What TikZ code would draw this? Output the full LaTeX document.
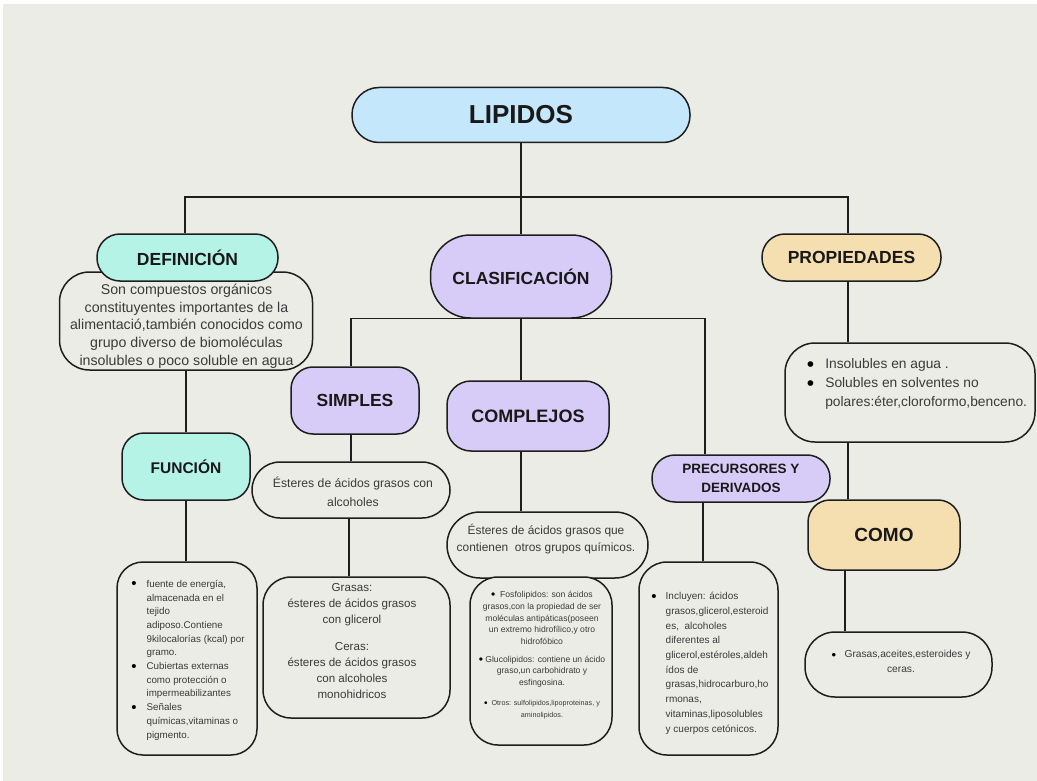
\documentclass[tikz,border=0pt]{standalone}
\usepackage{fontspec}
\setmainfont{Liberation Sans}
\definecolor{bgc}{RGB}{236,236,231}
\definecolor{edge}{RGB}{30,30,30}
\definecolor{lipblue}{RGB}{197,231,252}
\definecolor{mint}{RGB}{181,243,230}
\definecolor{lav}{RGB}{214,204,247}
\definecolor{peach}{RGB}{245,223,176}
\definecolor{hdrtxt}{RGB}{25,25,25}
\definecolor{bodytxt}{RGB}{58,58,58}
\newcommand{\myfs}[2]{\fontsize{#1}{#2}\selectfont}
\newcommand{\bul}[2]{\raisebox{#2}{\textcolor{black}{\fontsize{#1}{#1}\selectfont\textbullet}}}
\tikzset{
  box/.style={draw=edge, line width=1.5pt, inner sep=0pt, fill=bgc},
  hdr/.style={draw=edge, line width=1.5pt, inner sep=0pt, text=hdrtxt, align=center},
  body/.style={inner sep=0pt, text=bodytxt, align=center},
  conn/.style={draw=edge, line width=1.4pt}
}
\begin{document}
\begin{tikzpicture}[x=1pt,y=-1pt]
\useasboundingbox (0,0) rectangle (1037,781);
\fill[white] (0,0) rectangle (1037,781);
\fill[bgc] (3,4) rectangle (1037,781);

% ---- top
\node[hdr, fill=lipblue, minimum width=338, minimum height=55, rounded corners=27pt,
      font=\bfseries\myfs{26}{30}] (lip) at (521,115) {LIPIDOS};
\coordinate (bar1) at (521,197);

% ---- definicion column
\node[box, minimum width=253, minimum height=98, rounded corners=30pt] (defbox) at (186,321) {};
\node[body, font=\myfs{14.2}{17.7}] (deft) at (186.5,326)
  {Son compuestos orgánicos\\constituyentes importantes de la\\alimentació,también conocidos como\\grupo diverso de biomoléculas\\insolubles o poco soluble en agua};
\node[hdr, fill=mint, minimum width=181, minimum height=47, rounded corners=23pt,
      font=\bfseries\myfs{17.5}{20}] (def) at (187.5,257.5) {DEFINICIÓN};
\node[hdr, fill=mint, minimum width=128, minimum height=67, rounded corners=22pt,
      font=\bfseries\myfs{15.5}{18}] (fun) at (186,466.5) {FUNCIÓN};
\node[box, minimum width=140, minimum height=193, rounded corners=26pt] (funl) at (187,658.5) {};
\node[body, align=left, font=\myfs{9.8}{13.7}] (funt) at (188,660)
  {\begin{tabular}{@{}c@{\hspace{10pt}}l@{}}
   \bul{15}{-1.6pt} & fuente de energía,\\
   & almacenada en el\\
   & tejido\\
   & adiposo.Contiene\\
   & 9kilocalorías (kcal) por\\
   & gramo.\\
   \bul{15}{-1.6pt} & Cubiertas externas\\
   & como protección o\\
   & impermeabilizantes\\
   \bul{15}{-1.6pt} & Señales\\
   & químicas,vitaminas o\\
   & pigmento.
   \end{tabular}};

% ---- clasificacion column
\node[hdr, fill=lav, minimum width=181, minimum height=83, rounded corners=40pt,
      font=\bfseries\myfs{17.5}{20}] (clas) at (521,276.5) {CLASIFICACIÓN};
\node[hdr, fill=lav, minimum width=128, minimum height=67, rounded corners=22pt,
      font=\bfseries\myfs{17.5}{20}] (simp) at (355,400.5) {SIMPLES};
\node[box, minimum width=198, minimum height=56, rounded corners=28pt] (simpt) at (351,490) {};
\node[body, font=\myfs{12.2}{19}] (simptx) at (353,491.5) {Ésteres de ácidos grasos con\\alcoholes};
\node[box, minimum width=187, minimum height=141, rounded corners=28pt] (gras) at (356.5,647.5) {};
\node[body, font=\myfs{11.6}{16}] (grast) at (352,641)
  {Grasas:\\ésteres de ácidos grasos\\con glicerol\\[11pt]Ceras:\\ésteres de ácidos grasos\\con alcoholes\\monohidricos};

\node[hdr, fill=lav, minimum width=162, minimum height=70, rounded corners=24pt,
      font=\bfseries\myfs{18}{20}] (comp) at (528,416) {COMPLEJOS};
\node[box, minimum width=201, minimum height=66, rounded corners=33pt] (compt) at (547.5,545) {};
\node[body, font=\myfs{11.9}{17}] (comptx) at (546,539) {Ésteres de ácidos grasos que\\contienen\ \ otros grupos químicos.};
\node[box, minimum width=142, minimum height=168, rounded corners=28pt] (compl) at (541,661) {};
\node[body, font=\myfs{8.6}{11.7}] (compltx) at (542,655)
  {\bul{12}{-1.2pt}\ \ Fosfolipidos: son ácidos\\grasos,con la propiedad de ser\\moléculas antipáticas(poseen\\un extremo hidrofílico,y otro\\hidrofóbico\\[6pt]
   \bul{12}{-1.2pt}\ Glucolipidos: contiene un ácido\\graso,un carbohidrato y\\esfingosina.\\[8pt]
   {\myfs{7.2}{11}\bul{10}{-1pt}\ \ Otros: sulfolipidos,lipoproteinas, y}\\{\myfs{7.2}{11}aminolipidos.}};

\node[hdr, fill=lav, minimum width=178, minimum height=47, rounded corners=23pt,
      font=\bfseries\myfs{13.5}{19}] (prec) at (741,478.5) {PRECURSORES Y\\DERIVADOS};
\node[box, minimum width=139, minimum height=193, rounded corners=28pt] (precl) at (708.5,658.5) {};
\node[body, align=left, font=\myfs{10}{14.7}] (precltx) at (710,663)
  {\begin{tabular}{@{}c@{\hspace{9pt}}l@{}}
   \bul{15}{-1.6pt} & Incluyen: ácidos\\
   & grasos,glicerol,esteroid\\
   & es,\ \ alcoholes\\
   & diferentes al\\
   & glicerol,estéroles,aldeh\\
   & ídos de\\
   & grasas,hidrocarburo,ho\\
   & rmonas,\\
   & vitaminas,liposolubles\\
   & y cuerpos cetónicos.
   \end{tabular}};

% ---- propiedades column
\node[hdr, fill=peach, minimum width=179, minimum height=47, rounded corners=23pt,
      font=\bfseries\myfs{17.5}{20}] (prop) at (851.5,257.5) {PROPIEDADES};
\node[box, minimum width=250, minimum height=99, rounded corners=30pt] (propt) at (910,392.5) {};
\node[body, align=left, font=\myfs{13.8}{19}] (proptx) at (917,384)
  {\begin{tabular}{@{}c@{\hspace{11pt}}l@{}}
   \bul{21}{-2.4pt} & Insolubles en agua .\\
   \bul{21}{-2.4pt} & Solubles en solventes no\\
   & polares:éter,cloroformo,benceno.
   \end{tabular}};
\node[hdr, fill=peach, minimum width=152, minimum height=70, rounded corners=22pt,
      font=\bfseries\myfs{19}{22}] (como) at (884,535) {COMO};
\node[box, minimum width=187, minimum height=65, rounded corners=30pt] (comol) at (898.5,664.5) {};
\node[body, font=\myfs{10.2}{14.5}] (comoltx) at (901,661.5) {\bul{13}{-1.3pt}\ \ \ Grasas,aceites,esteroides y\\ceras.};

% ---- connectors
\draw[conn] (lip.south) -- (lip.south |- clas.north);
\draw[conn] ([xshift=-2.5pt]def.north) |- (bar1) -| ([xshift=-3.5pt]prop.north);
\draw[conn] (defbox.south) -- (defbox.south |- fun.north);
\draw[conn] (fun.south) -- (fun.south |- funl.north);
\draw[conn] ([xshift=-4pt]simp.north) |- (clas.south) -| ([xshift=-36pt]prec.north);
\draw[conn] (clas.south) -- (clas.south |- comp.north);
\draw[conn] (simpt.north |- simp.south) -- (simpt.north);
\draw[conn] ([xshift=-2pt]simpt.south) -- ([xshift=-2pt]simpt.south |- gras.north);
\draw[conn] (clas.south |- comp.south) -- (clas.south |- compt.north);
\draw[conn] ([xshift=-38pt]prec.south) -- ([xshift=-38pt]prec.south |- precl.north);
\draw[conn] ([xshift=-3.5pt]prop.south) -- ([xshift=-3.5pt]prop.south |- propt.north);
\draw[conn] ([xshift=-3.5pt]prop.south |- propt.south) -- ([xshift=-3.5pt]prop.south |- como.north);
\draw[conn] ([xshift=-39pt]como.south) -- ([xshift=-39pt]como.south |- comol.north);
\end{tikzpicture}
\end{document}
